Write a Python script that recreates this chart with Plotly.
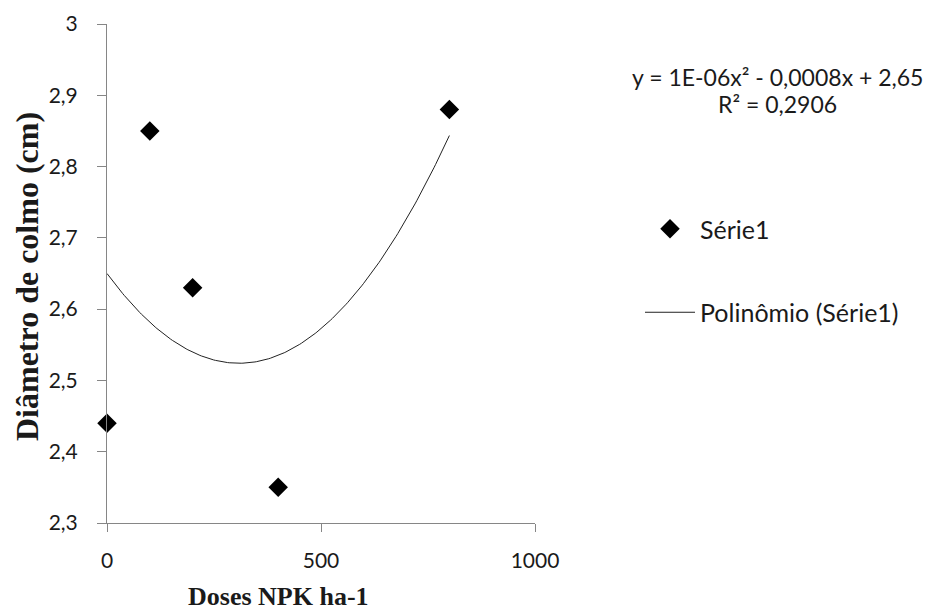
import numpy as np
import plotly.graph_objects as go

# Data
doses = [0, 100, 200, 400, 800]
diametro = [2.44, 2.85, 2.63, 2.35, 2.88]
y_tickvals = [2.3, 2.4, 2.5, 2.6, 2.7, 2.8, 2.9, 3.0]
y_ticktext = ["2,3", "2,4", "2,5", "2,6", "2,7", "2,8", "2,9", "3"]
x_tickvals = [0, 500, 1000]
x_ticktext = ["0", "500", "1000"]
equation_line1 = "y = 1E-06x² - 0,0008x + 2,65"
equation_line2 = "R² = 0,2906"

# Quadratic trendline fitted to the data
coef = np.polyfit(doses, diametro, 2)
xs = np.linspace(min(doses), max(doses), 200)
ys = np.polyval(coef, xs)

SANS = "Lato, 'Open Sans', sans-serif"
SERIF = "'Liberation Serif', 'Times New Roman', serif"
AXCOL = "#868686"
TXT = "#1a1a1a"

fig = go.Figure()
fig.add_trace(go.Scatter(
    x=doses, y=diametro, mode="markers", name="Série1",
    marker=dict(symbol="diamond", size=15, color="black"),
    cliponaxis=False, legendgroup="a"))
fig.add_trace(go.Scatter(
    x=xs, y=ys, mode="lines", name="Polinômio (Série1)",
    line=dict(color="#222222", width=1), legendgroup="b"))

# page offset (browser body margin)
OFF = 8
W, H = 932 - OFF, 612 - OFF
# plot area in page pixels: x 107..535, y 24..523
L = 107 - OFF
T = 24 - OFF
pw, ph = 428, 499
R = W - L - pw
B = H - T - ph

def px2x(px):
    return (px - OFF - L) / pw

def px2y(py):
    return (T + ph - (py - OFF)) / ph

fig.update_layout(
    width=W, height=H,
    margin=dict(l=L, r=R, t=T, b=B, autoexpand=False),
    paper_bgcolor="white", plot_bgcolor="white",
    font=dict(family=SANS, size=21, color=TXT),
    showlegend=True,
    legend=dict(x=px2x(640), y=px2y(206), xanchor="left", yanchor="top",
                itemwidth=50, tracegroupgap=48,
                font=dict(family=SANS, size=25, color=TXT),
                bgcolor="rgba(0,0,0,0)"),
    xaxis=dict(range=[0, 1000], tickvals=x_tickvals, ticktext=x_ticktext,
               showline=True, linecolor=AXCOL, linewidth=1,
               ticks="outside", ticklen=8, tickcolor=AXCOL,
               ticklabelstandoff=11, automargin=False,
               showgrid=False, zeroline=False,
               tickfont=dict(family=SANS, size=21, color=TXT)),
    yaxis=dict(range=[2.3, 3.0], tickvals=y_tickvals, ticktext=y_ticktext,
               showline=True, linecolor=AXCOL, linewidth=1,
               ticks="outside", ticklen=9, tickcolor=AXCOL,
               ticklabelstandoff=15, automargin=False,
               showgrid=False, zeroline=False,
               tickfont=dict(family=SANS, size=21, color=TXT)),
    annotations=[
        dict(text="<b>Doses NPK ha-1</b>", xref="paper", yref="paper",
             x=px2x(278), y=px2y(596), xanchor="center", yanchor="middle",
             showarrow=False, font=dict(family=SERIF, size=26, color=TXT)),
        dict(text="<b>Diâmetro de colmo (cm)</b>", xref="paper", yref="paper",
             x=px2x(27), y=px2y(277), xanchor="center", yanchor="middle",
             textangle=-90, showarrow=False,
             font=dict(family=SERIF, size=32, color=TXT)),
        dict(text=equation_line1, xref="paper", yref="paper",
             x=px2x(777), y=px2y(77), xanchor="center", yanchor="middle",
             showarrow=False, font=dict(family=SANS, size=23, color=TXT)),
        dict(text=equation_line2, xref="paper", yref="paper",
             x=px2x(777), y=px2y(104), xanchor="center", yanchor="middle",
             showarrow=False, font=dict(family=SANS, size=23, color=TXT)),
    ],
)

fig.write_html("out.html")
